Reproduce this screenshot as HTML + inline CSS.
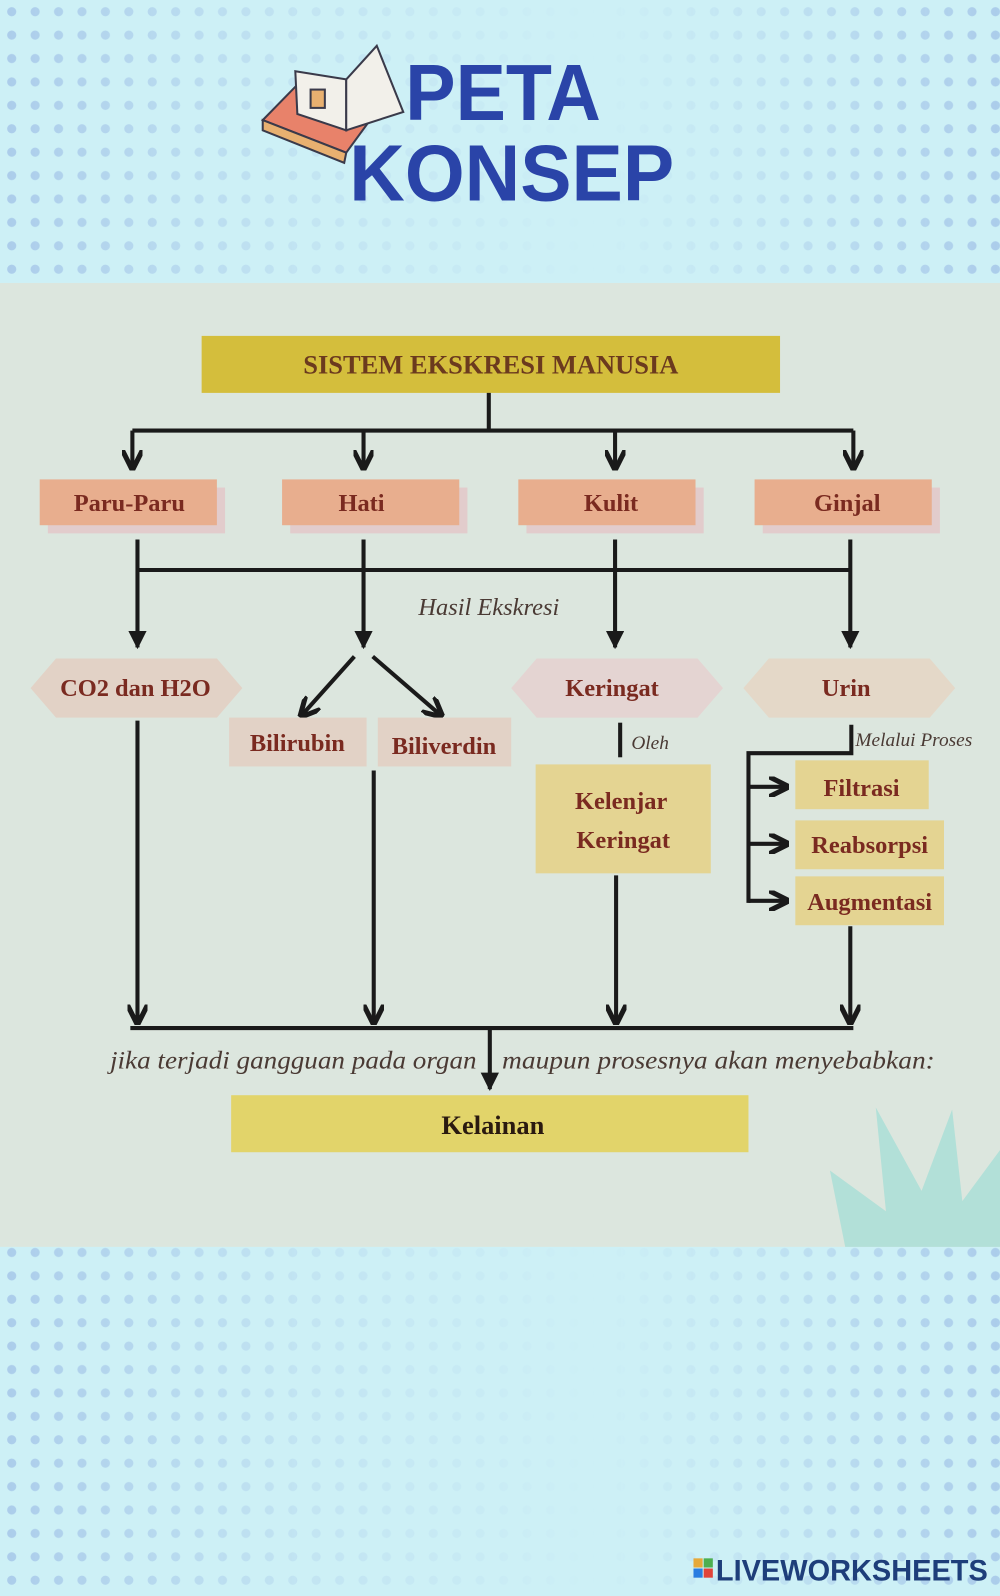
<!DOCTYPE html>
<html><head><meta charset="utf-8"><style>
html,body{margin:0;padding:0;background:#cdf0f6;}
svg{display:block}
.s{font-family:"Liberation Serif",serif;font-weight:bold;fill:#7a2a20}
.i{font-family:"Liberation Serif",serif;font-style:italic;fill:#4a3a34}
</style></head><body>
<svg width="1000" height="1596" viewBox="0 0 982 1568" preserveAspectRatio="none" xmlns="http://www.w3.org/2000/svg">
<defs>
<pattern id="dots" width="23" height="23" patternUnits="userSpaceOnUse">
<circle cx="11.5" cy="11.5" r="4.5" fill="#98b8e4"/>
</pattern>
<linearGradient id="gl" x1="0" x2="1" y1="0" y2="0">
<stop offset="0" stop-color="#fff" stop-opacity="0.9"/><stop offset="0.3" stop-color="#fff" stop-opacity="0.3"/><stop offset="0.6" stop-color="#fff" stop-opacity="0"/><stop offset="0.75" stop-color="#fff" stop-opacity="0.3"/><stop offset="1" stop-color="#fff" stop-opacity="0.9"/>
</linearGradient>
<mask id="m1"><rect width="982" height="278" fill="url(#gl)"/></mask>
<mask id="m2"><rect y="1225" width="982" height="343" fill="url(#gl)"/></mask>
<marker id="a" viewBox="0 0 10 10" refX="8" refY="5" markerWidth="5" markerHeight="5" orient="auto"><path d="M0,0 L10,5 L0,10" fill="none" stroke="#1a1a1a" stroke-width="2.5"/></marker>
<marker id="af" viewBox="0 0 10 10" refX="9" refY="5" markerWidth="4.5" markerHeight="4.5" orient="auto"><path d="M0,0 L10,5 L0,10 z" fill="#1a1a1a"/></marker>
</defs>
<rect width="982" height="1568" fill="#cdf0f6"/>
<rect width="982" height="278" fill="url(#dots)" mask="url(#m1)" opacity="0.7"/>
<rect y="1225" width="982" height="343" fill="url(#dots)" mask="url(#m2)" opacity="0.7"/>

<!-- book icon -->
<g stroke="#3a3a4a" stroke-width="2">
<path d="M258,118 L300,75 L378,98 L340,150 Z" fill="#e8826a"/>
<path d="M258,118 L258,128 L338,160 L340,150 Z" fill="#e8b070"/>
<path d="M290,70 L340,78 L340,128 L292,112 Z" fill="#f2f0ea"/>
<path d="M340,78 L370,45 L396,110 L340,128 Z" fill="#f2f0ea"/>
<rect x="305" y="88" width="14" height="18" fill="#e8b070"/>
</g>
<text x="398" y="118" font-family="Liberation Sans,sans-serif" font-weight="bold" font-size="78" fill="#2a44a8" textLength="192" lengthAdjust="spacingAndGlyphs">PETA</text>
<text x="343" y="197" font-family="Liberation Sans,sans-serif" font-weight="bold" font-size="78" fill="#2a44a8" textLength="319" lengthAdjust="spacingAndGlyphs">KONSEP</text>

<!-- panel -->
<rect y="278" width="982" height="947" fill="#dce6de"/>
<path d="M830,1225 L815,1150 L870,1190 L860,1088 L905,1170 L935,1090 L945,1180 L982,1130 L982,1225 Z" fill="#b2e0d8"/>

<rect x="198" y="330" width="568" height="56" fill="#d4be3c"/>
<text x="482" y="367" class="s" font-size="26" text-anchor="middle" style="fill:#6b3a1e">SISTEM EKSKRESI MANUSIA</text>

<g stroke="#1a1a1a" stroke-width="4" fill="none">
<path d="M480,386 V423 M130,423 H838"/>
<path d="M130,423 V458" marker-end="url(#a)"/>
<path d="M357,423 V458" marker-end="url(#a)"/>
<path d="M604,423 V458" marker-end="url(#a)"/>
<path d="M838,423 V458" marker-end="url(#a)"/>
</g>

<g>
<rect x="47" y="479" width="174" height="45" fill="#e2cccc"/><rect x="39" y="471" width="174" height="45" fill="#e8ae8e"/>
<rect x="285" y="479" width="174" height="45" fill="#e2cccc"/><rect x="277" y="471" width="174" height="45" fill="#e8ae8e"/>
<rect x="517" y="479" width="174" height="45" fill="#e2cccc"/><rect x="509" y="471" width="174" height="45" fill="#e8ae8e"/>
<rect x="749" y="479" width="174" height="45" fill="#e2cccc"/><rect x="741" y="471" width="174" height="45" fill="#e8ae8e"/>
<text x="127" y="502" class="s" font-size="24" text-anchor="middle">Paru-Paru</text>
<text x="355" y="502" class="s" font-size="24" text-anchor="middle">Hati</text>
<text x="600" y="502" class="s" font-size="24" text-anchor="middle">Kulit</text>
<text x="832" y="502" class="s" font-size="24" text-anchor="middle">Ginjal</text>
</g>

<g stroke="#1a1a1a" stroke-width="4" fill="none">
<path d="M135,530 V560 M357,530 V560 M604,530 V560 M835,530 V560 M135,560 H835"/>
<path d="M135,560 V636" marker-end="url(#af)"/>
<path d="M357,560 V636" marker-end="url(#af)"/>
<path d="M604,560 V636" marker-end="url(#af)"/>
<path d="M835,560 V636" marker-end="url(#af)"/>
<path d="M348,645 L297,702" marker-end="url(#a)"/>
<path d="M366,645 L432,702" marker-end="url(#a)"/>
</g>
<text x="480" y="604" class="i" font-size="24" text-anchor="middle">Hasil Ekskresi</text>

<polygon points="30,676 55,647 213,647 238,676 213,705 55,705" fill="#e2d2c6"/>
<polygon points="502,676 527,647 685,647 710,676 685,705 527,705" fill="#e4d4d2"/>
<polygon points="730,676 755,647 913,647 938,676 913,705 755,705" fill="#e4d8c8"/>
<text x="133" y="684" class="s" font-size="24" text-anchor="middle">CO2 dan H2O</text>
<text x="601" y="684" class="s" font-size="24" text-anchor="middle">Keringat</text>
<text x="831" y="684" class="s" font-size="24" text-anchor="middle">Urin</text>

<rect x="225" y="705" width="135" height="48" fill="#e2d2c6"/>
<rect x="371" y="705" width="131" height="48" fill="#e2d2c6"/>
<text x="292" y="738" class="s" font-size="24" text-anchor="middle">Bilirubin</text>
<text x="436" y="741" class="s" font-size="24" text-anchor="middle">Biliverdin</text>

<rect x="526" y="751" width="172" height="107" fill="#e4d492"/>
<text x="610" y="795" class="s" font-size="24" text-anchor="middle">Kelenjar</text>
<text x="612" y="833" class="s" font-size="24" text-anchor="middle">Keringat</text>
<text x="620" y="736" class="i" font-size="19">Oleh</text>
<text x="840" y="733" class="i" font-size="19">Melalui Proses</text>

<rect x="781" y="747" width="131" height="48" fill="#e4d492"/>
<rect x="781" y="806" width="146" height="48" fill="#e4d492"/>
<rect x="781" y="861" width="146" height="48" fill="#e4d492"/>
<text x="846" y="782" class="s" font-size="24" text-anchor="middle">Filtrasi</text>
<text x="854" y="838" class="s" font-size="24" text-anchor="middle">Reabsorpsi</text>
<text x="854" y="894" class="s" font-size="24" text-anchor="middle">Augmentasi</text>

<g stroke="#1a1a1a" stroke-width="4" fill="none">
<path d="M609,710 V744"/>
<path d="M836,712 V740 H735 V887"/>
<path d="M735,773 H771" marker-end="url(#a)"/>
<path d="M735,829 H771" marker-end="url(#a)"/>
<path d="M735,885 H771" marker-end="url(#a)"/>
<path d="M135,708 V1003" marker-end="url(#a)"/>
<path d="M367,757 V1003" marker-end="url(#a)"/>
<path d="M605,860 V1003" marker-end="url(#a)"/>
<path d="M835,910 V1003" marker-end="url(#a)"/>
<path d="M128,1010 H838"/>
<path d="M481,1010 V1070" marker-end="url(#af)"/>
</g>
<text x="108" y="1050" class="i" font-size="25" textLength="360" lengthAdjust="spacingAndGlyphs">jika terjadi gangguan pada organ</text>
<text x="493" y="1050" class="i" font-size="25" textLength="425" lengthAdjust="spacingAndGlyphs">maupun prosesnya akan menyebabkan:</text>

<rect x="227" y="1076" width="508" height="56" fill="#e2d46a"/>
<text x="484" y="1114" class="s" font-size="26" text-anchor="middle" style="fill:#2a1a10">Kelainan</text>

<!-- logo -->
<rect x="681" y="1531" width="9" height="9" fill="#e6a93a"/><rect x="691" y="1531" width="9" height="9" fill="#4caf50"/>
<rect x="681" y="1541" width="9" height="9" fill="#2a7de1"/><rect x="691" y="1541" width="9" height="9" fill="#e0443a"/>
<text x="703" y="1553" font-family="Liberation Sans,sans-serif" font-weight="bold" font-size="29" fill="#1e3e7a" textLength="267" lengthAdjust="spacingAndGlyphs">LIVEWORKSHEETS</text>
</svg>
</body></html>
